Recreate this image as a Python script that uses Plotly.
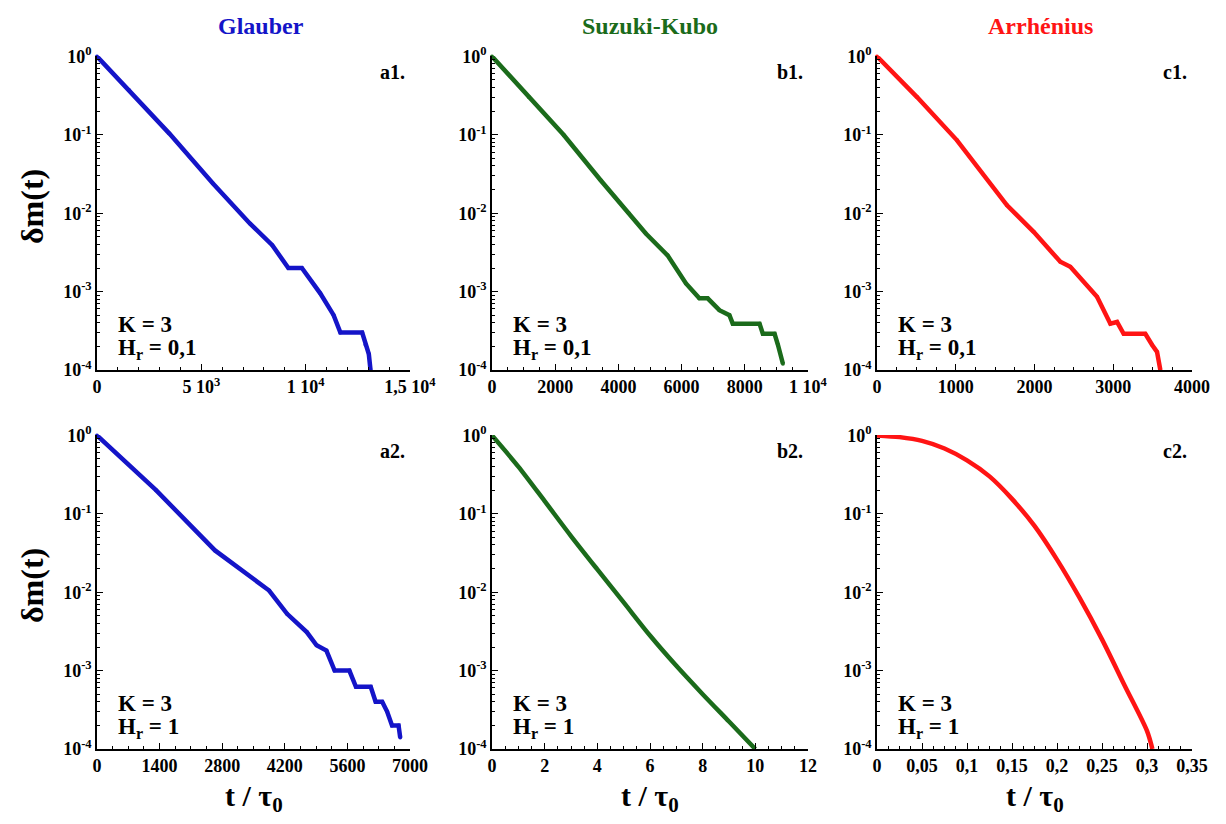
import plotly.graph_objects as go

# ---------------- data ----------------
a1_t = [0, 1542, 3470, 5557, 7325, 8400, 9171, 9817, 10699, 11340, 11663, 12708, 12867, 13026, 13108]
a1_y = [1, 0.369, 0.1035, 0.0239, 0.0074, 0.0039, 0.002, 0.002, 0.00095, 0.0005, 0.0003, 0.0003, 0.00021, 0.00016, 0.0001]

b1_t = [0, 1164, 2264, 3438, 4327, 4868, 5556, 6138, 6561, 6825, 7196, 7513, 7619, 8466, 8571, 8942, 9048, 9206]
b1_y = [1, 0.303, 0.1, 0.0263, 0.01, 0.0055, 0.0029, 0.00127, 0.00082, 0.00082, 0.00058, 0.0005, 0.00039, 0.00039, 0.00029, 0.00029, 0.00021, 0.00012]

c1_t = [0, 508, 1016, 1651, 1989, 2328, 2455, 2794, 2963, 3048, 3132, 3407, 3492, 3556, 3598]
c1_y = [1, 0.303, 0.085, 0.0126, 0.00578, 0.0024, 0.00207, 0.00086, 0.00039, 0.00041, 0.00029, 0.00029, 0.00021, 0.00017, 0.0001]

a2_t = [0, 1320, 2639, 3849, 4251, 4691, 4911, 5131, 5314, 5644, 5791, 6121, 6231, 6378, 6488, 6598, 6744, 6781]
a2_y = [1, 0.2, 0.0341, 0.0105, 0.0053, 0.0031, 0.0021, 0.0018, 0.001, 0.001, 0.00062, 0.00062, 0.0004, 0.0004, 0.0003, 0.0002, 0.0002, 0.00014]

b2_t = [0, 1, 2, 3, 4, 5, 6, 7, 8, 9, 10]
b2_y = [1, 0.4, 0.145, 0.052, 0.0195, 0.0074, 0.0028, 0.00115, 0.0005, 0.000224, 0.0001]

c2_t = [0, 0.025, 0.05, 0.075, 0.1, 0.125, 0.15, 0.175, 0.2, 0.225, 0.25, 0.275, 0.3, 0.306]
c2_y = [1, 0.95, 0.85, 0.68, 0.48, 0.3, 0.155, 0.07, 0.026, 0.0085, 0.0025, 0.00065, 0.00017, 0.0001]

col_titles = ["Glauber", "Suzuki-Kubo", "Arrhénius"]
col_colors = ["#1414c8", "#1b6b1b", "#ff1414"]
panel_labels = ["a1.", "b1.", "c1.", "a2.", "b2.", "c2."]
hr_labels = ["0,1", "0,1", "0,1", "1", "1", "1"]

x_ticks = [
    ([0, 5000, 10000, 15000], ["0", "5 10<sup>3</sup>", "1 10<sup>4</sup>", "1,5 10<sup>4</sup>"], [0, 15000], 1000),
    ([0, 2000, 4000, 6000, 8000, 10000], ["0", "2000", "4000", "6000", "8000", "1 10<sup>4</sup>"], [0, 10000], 500),
    ([0, 1000, 2000, 3000, 4000], ["0", "1000", "2000", "3000", "4000"], [0, 4000], 250),
    ([0, 1400, 2800, 4200, 5600, 7000], ["0", "1400", "2800", "4200", "5600", "7000"], [0, 7000], 350),
    ([0, 2, 4, 6, 8, 10, 12], ["0", "2", "4", "6", "8", "10", "12"], [0, 12], 0.5),
    ([0, 0.05, 0.1, 0.15, 0.2, 0.25, 0.3, 0.35], ["0", "0,05", "0,1", "0,15", "0,2", "0,25", "0,3", "0,35"], [0, 0.35], 0.0125),
]
y_vals = [1, 0.1, 0.01, 0.001, 0.0001]
y_text = ["10<sup>0</sup>", "10<sup>-1</sup>", "10<sup>-2</sup>", "10<sup>-3</sup>", "10<sup>-4</sup>"]

series = [(a1_t, a1_y), (b1_t, b1_y), (c1_t, c1_y), (a2_t, a2_y), (b2_t, b2_y), (c2_t, c2_y)]
smooth = [False, False, False, False, True, True]

# ---------------- layout geometry ----------------
# the page body adds an 8px margin, so the figure is 16px smaller and positions are shifted by 8px
OFF = 8
W, H = 1226 - 2 * OFF, 824 - 2 * OFF
col_px = [(97, 410), (492, 808), (877, 1192)]
row_px = [(56, 370), (435, 749)]
title_cx = [261, 650, 1040]
FONT = "Liberation Serif"


def px(x):
    return (x - OFF) / W


def py(y):
    return 1 - (y - OFF) / H


fig = go.Figure()
layout = dict(template="none", width=W, height=H, margin=dict(l=0, r=0, t=0, b=0, autoexpand=False),
              paper_bgcolor="white", plot_bgcolor="white", showlegend=False)
annotations = []

for i, (t, y) in enumerate(series):
    r, c = divmod(i, 3)
    n = i + 1
    xa = "x" if n == 1 else f"x{n}"
    ya = "y" if n == 1 else f"y{n}"
    fig.add_trace(go.Scatter(x=t, y=y, mode="lines+markers" if not smooth[i] else "lines",
                             xaxis=xa, yaxis=ya,
                             line=dict(color=col_colors[c], width=4.5,
                                       shape="spline" if smooth[i] else "linear", smoothing=0.8),
                             marker=dict(color=col_colors[c], size=4),
                             cliponaxis=False))
    x0, x1 = col_px[c]
    y0, y1 = row_px[r]
    tv, tt, rng, mdt = x_ticks[i]
    layout["xaxis" if n == 1 else f"xaxis{n}"] = dict(
        domain=[px(x0), px(x1)], anchor=ya, range=rng, automargin=False,
        tickvals=tv, ticktext=tt, ticks="inside", ticklen=6, tickwidth=1.2, tickcolor="black",
        showline=True, linecolor="black", linewidth=1.5, showgrid=False, zeroline=False,
        tickfont=dict(family=FONT, size=18, color="black", weight="bold"),
        minor=dict(ticks="inside", ticklen=3, dtick=mdt, tickcolor="black", showgrid=False),
    )
    layout["yaxis" if n == 1 else f"yaxis{n}"] = dict(
        domain=[py(y1), py(y0)], anchor=xa, type="log", range=[-4, 0.005], automargin=False,
        tickvals=y_vals, ticktext=y_text, ticks="inside", ticklen=6, tickwidth=1.2, tickcolor="black",
        showline=True, linecolor="black", linewidth=1.5, showgrid=False, zeroline=False,
        tickfont=dict(family=FONT, size=18, color="black", weight="bold"),
        minor=dict(ticks="inside", ticklen=3, dtick="D1", tickcolor="black", showgrid=False),
    )
    annotations.append(dict(x=px(x1 - 3), y=py(72 + r * 379), xref="paper", yref="paper",
                            text=f"<b>{panel_labels[i]}</b>", showarrow=False, xanchor="right", yanchor="middle",
                            font=dict(family=FONT, size=20, color="black")))
    annotations.append(dict(x=px(x0 + 19), y=py(y1 - 46), xref="paper", yref="paper",
                            text="<b>K = 3</b>", showarrow=False, xanchor="left", yanchor="middle",
                            font=dict(family=FONT, size=23, color="black")))
    annotations.append(dict(x=px(x0 + 19), y=py(y1 - 21), xref="paper", yref="paper",
                            text=f"<b>H<sub>r</sub> = {hr_labels[i]}</b>", showarrow=False, xanchor="left", yanchor="middle",
                            font=dict(family=FONT, size=23, color="black")))

for c in range(3):
    x0, x1 = col_px[c]
    cx = (x0 + x1) / 2
    annotations.append(dict(x=px(title_cx[c]), y=py(26), xref="paper", yref="paper",
                            text=f"<b>{col_titles[c]}</b>", showarrow=False, xanchor="center", yanchor="middle",
                            font=dict(family=FONT, size=24, color=col_colors[c])))
    annotations.append(dict(x=px(cx), y=py(798), xref="paper", yref="paper",
                            text="<b>t / τ<sub>0</sub></b>", showarrow=False, xanchor="center", yanchor="middle",
                            font=dict(family=FONT, size=30, color="black")))

for r in range(2):
    y0, y1 = row_px[r]
    annotations.append(dict(x=px(32), y=py((y0 + y1) / 2 - 6), xref="paper", yref="paper",
                            text="<b>δm(t)</b>", showarrow=False, textangle=-90, xanchor="center", yanchor="middle",
                            font=dict(family=FONT, size=32, color="black")))

layout["annotations"] = annotations
fig.update_layout(**layout)
fig.write_html("out.html")
